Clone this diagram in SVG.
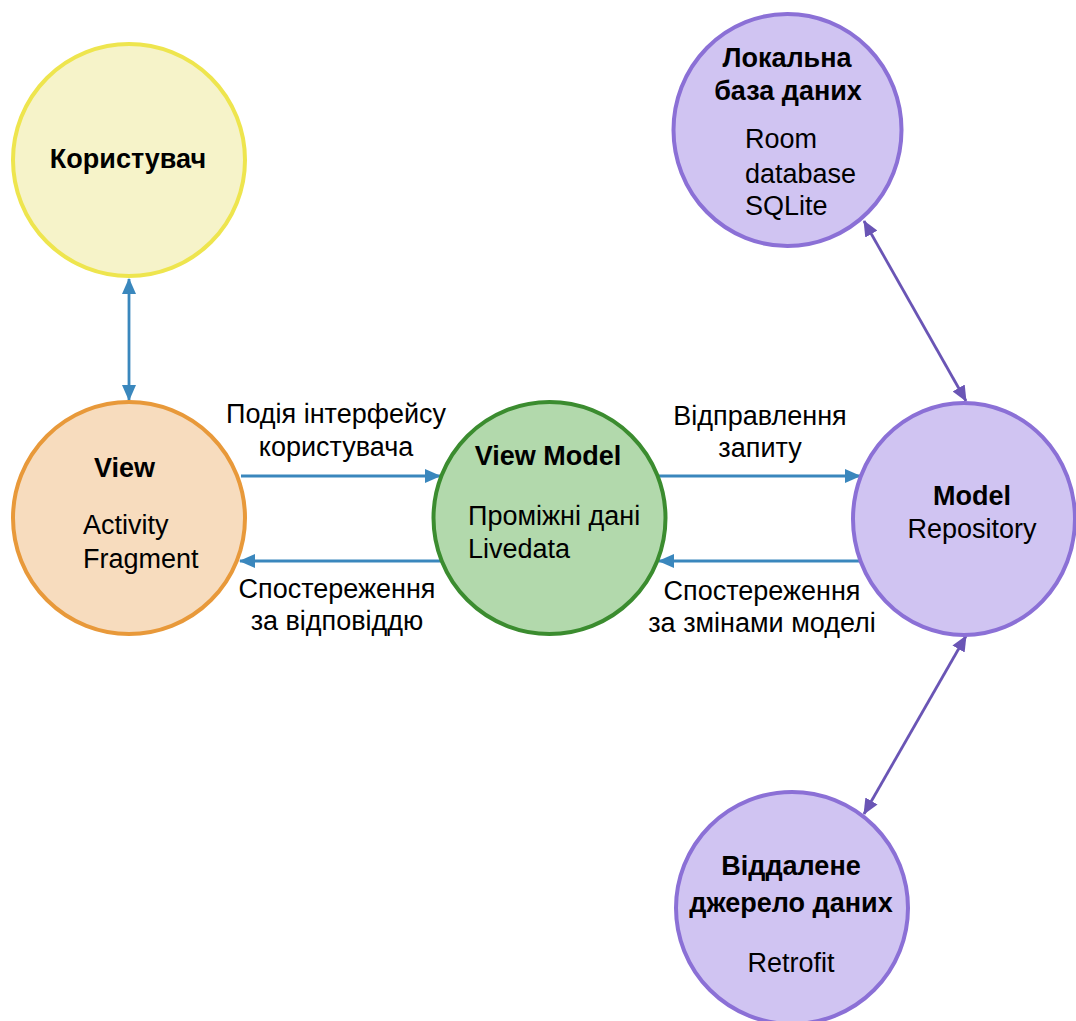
<svg xmlns="http://www.w3.org/2000/svg" width="1076" height="1021" viewBox="0 0 1076 1021">
<style>
text{font-family:"Liberation Sans",Arial,sans-serif;font-size:27px;fill:#000}
.b{font-weight:bold}
.c{text-anchor:middle}
.blue{stroke:#3A87BD;stroke-width:2.8;fill:none}
.pur{stroke:#6A55B5;stroke-width:2.8;fill:none}
.yel{fill:#F6F3C9;stroke:#EEE54E;stroke-width:4}
.ora{fill:#F7DCBE;stroke:#E8993A;stroke-width:4}
.gre{fill:#B2D9AC;stroke:#3B8C2F;stroke-width:4}
.vio{fill:#D0C4F2;stroke:#8B70D6;stroke-width:4}
</style>
<defs>
<marker id="ab" markerUnits="userSpaceOnUse" markerWidth="16" markerHeight="14" refX="15" refY="7" orient="auto-start-reverse" viewBox="0 0 16 14"><path d="M0,0 L16,7 L0,14 Z" fill="#3A87BD"/></marker>
<marker id="ap" markerUnits="userSpaceOnUse" markerWidth="16" markerHeight="14" refX="15" refY="7" orient="auto-start-reverse" viewBox="0 0 16 14"><path d="M0,0 L16,7 L0,14 Z" fill="#6A55B5"/></marker>
</defs>
<rect width="1076" height="1021" fill="#fff"/>
<g id="connectors">
<line class="blue" x1="129" y1="279" x2="129" y2="400" marker-start="url(#ab)" marker-end="url(#ab)"/>
<line class="blue" x1="241" y1="476" x2="440" y2="476" marker-end="url(#ab)"/>
<line class="blue" x1="445" y1="561" x2="240" y2="561" marker-end="url(#ab)"/>
<line class="blue" x1="658" y1="476" x2="860" y2="476" marker-end="url(#ab)"/>
<line class="blue" x1="860" y1="561" x2="659" y2="561" marker-end="url(#ab)"/>
<line class="pur" x1="864" y1="221" x2="966" y2="401" marker-start="url(#ap)" marker-end="url(#ap)"/>
<line class="pur" x1="966" y1="636" x2="864" y2="814" marker-start="url(#ap)" marker-end="url(#ap)"/>
</g>
<g id="labels">
<text class="c" x="336" y="423">Подія інтерфейсу</text>
<text class="c" x="336" y="456">користувача</text>
<text class="c" x="337" y="598">Спостереження</text>
<text class="c" x="337" y="630">за відповіддю</text>
<text class="c" x="760" y="425">Відправлення</text>
<text class="c" x="760" y="457">запиту</text>
<text class="c" x="762" y="600">Спостереження</text>
<text class="c" x="762" y="632">за змінами моделі</text>
</g>
<g id="user">
<circle class="yel" cx="129" cy="160" r="116"/>
<text class="b c" x="128" y="168">Користувач</text>
</g>
<g id="view">
<circle class="ora" cx="129" cy="518" r="116"/>
<text class="b" x="94" y="477">View</text>
<text x="83" y="534">Activity</text>
<text x="83" y="568">Fragment</text>
</g>
<g id="viewmodel">
<circle class="gre" cx="549.5" cy="518" r="116"/>
<text class="b c" x="548" y="465">View Model</text>
<text x="468" y="525">Проміжні дані</text>
<text x="468" y="558">Livedata</text>
</g>
<g id="model">
<ellipse class="vio" cx="964" cy="519" rx="111" ry="116"/>
<text class="b c" x="972" y="505">Model</text>
<text class="c" x="972" y="538">Repository</text>
</g>
<g id="localdb">
<ellipse class="vio" cx="787.5" cy="130" rx="114" ry="116"/>
<text class="b c" x="787" y="67">Локальна</text>
<text class="b c" x="788" y="100">база даних</text>
<text x="745" y="148">Room</text>
<text x="745" y="183">database</text>
<text x="745" y="215">SQLite</text>
</g>
<g id="remote">
<circle class="vio" cx="792" cy="908" r="116"/>
<text class="b c" x="791" y="875">Віддалене</text>
<text class="b c" x="791" y="912">джерело даних</text>
<text class="c" x="791" y="972">Retrofit</text>
</g>
</svg>
